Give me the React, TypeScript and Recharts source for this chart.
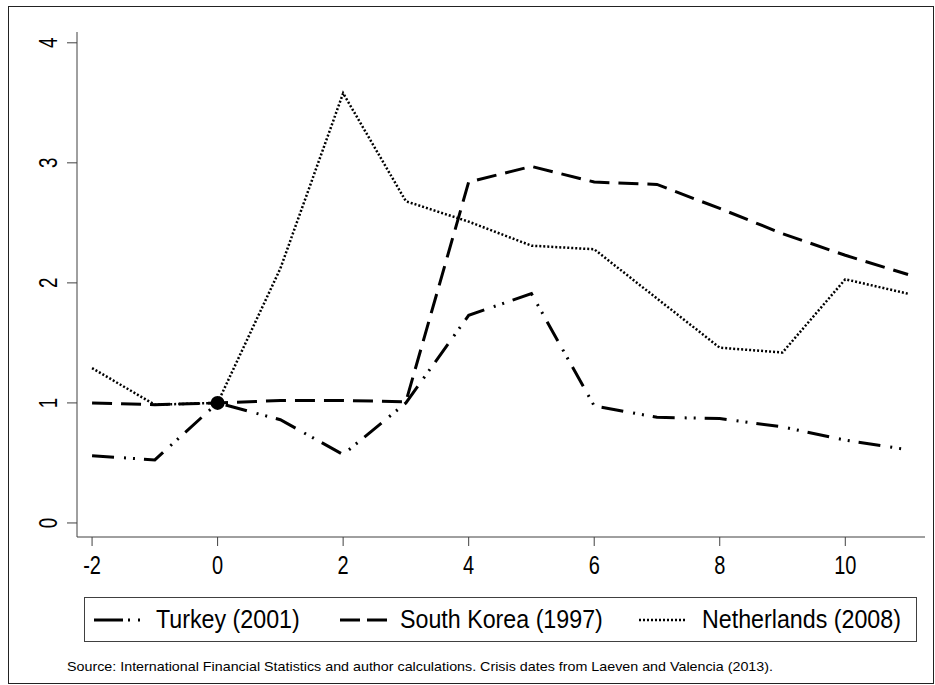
import { Line, LineChart, ReferenceDot, XAxis, YAxis } from "recharts";

// Years relative to the crisis (t = 0)
const years = [-2, -1, 0, 1, 2, 3, 4, 5, 6, 7, 8, 9, 10, 11];

// Index values, normalised to 1 in the crisis year
const turkey = [0.56, 0.525, 1.0, 0.86, 0.57, 1.0, 1.73, 1.91, 0.975, 0.88, 0.87, 0.8, 0.69, 0.61];
const southKorea = [1.0, 0.985, 1.0, 1.02, 1.02, 1.01, 2.84, 2.97, 2.84, 2.82, 2.62, 2.41, 2.23, 2.07];
const netherlands = [1.29, 0.985, 1.0, 2.12, 3.58, 2.68, 2.51, 2.31, 2.28, 1.87, 1.46, 1.42, 2.03, 1.91];

const xTicks = [-2, 0, 2, 4, 6, 8, 10];
const yTicks = [0, 1, 2, 3, 4];
const baseYear = 0;
const baseValue = 1;

const seriesNames = ["Turkey (2001)", "South Korea (1997)", "Netherlands (2008)"];
const sourceNote =
  "Source: International Financial Statistics and author calculations. Crisis dates from Laeven and Valencia (2013).";

const rows = years.map((year, i) => ({
  year,
  turkey: turkey[i],
  southKorea: southKorea[i],
  netherlands: netherlands[i],
}));

const font = "'Liberation Sans', Arial, sans-serif";
const axisColor = "#404040";

const styles = [
  { key: "turkey", dash: "22 10 2 7 2 9", width: 3 },
  { key: "southKorea", dash: "20 9", width: 3 },
  { key: "netherlands", dash: "2 2", width: 2.5 },
];

// Narrow, tall tick digits
function XTick({ x, y, payload }: any) {
  return (
    <text
      transform={`translate(${x} ${y + 22}) scale(0.8 1)`}
      textAnchor="middle"
      fontSize={25}
      fontFamily={font}
      fill="#000"
    >
      {payload.value}
    </text>
  );
}

// Y labels are turned to read bottom-to-top
function YTick({ x, y, payload }: any) {
  const bx = x - 8;
  return (
    <text
      transform={`translate(${bx} ${y}) rotate(-90) scale(0.75 1)`}
      textAnchor="middle"
      fontSize={25}
      fontFamily={font}
      fill="#000"
    >
      {payload.value}
    </text>
  );
}

// Boxed legend with a short line sample per series
function LegendBox() {
  const items = [
    { sample: [9, 55], text: 71, dash: "29 5 2 8 2 20" },
    { sample: [255, 304], text: 315, dash: "20 7" },
    { sample: [554, 602], text: 617, dash: "2 2" },
  ];
  return (
    <div
      style={{
        position: "absolute",
        left: 84,
        top: 597,
        width: 831,
        height: 43,
        border: `1px solid ${axisColor}`,
        background: "#fff",
      }}
    >
      <svg width={831} height={43} style={{ position: "absolute", left: 0, top: 0 }}>
        {items.map((it, i) => (
          <line
            key={i}
            x1={it.sample[0]}
            x2={it.sample[1]}
            y1={22}
            y2={22}
            stroke="#000"
            strokeWidth={styles[i].width}
            strokeDasharray={it.dash}
          />
        ))}
        {items.map((it, i) => (
          <text
            key={i}
            transform={`translate(${it.text} 30) scale(0.93 1)`}
            fontSize={25}
            fontFamily={font}
            fill="#000"
          >
            {seriesNames[i]}
          </text>
        ))}
      </svg>
    </div>
  );
}

export default function App() {
  return (
    <div style={{ position: "absolute", left: 0, top: 0, width: 935, height: 685, background: "#fff" }}>
      <div
        style={{
          position: "absolute",
          left: 8,
          top: 6,
          width: 924,
          height: 676,
          border: "1px solid #222",
        }}
      />
      <div style={{ position: "absolute", left: 0, top: 0 }}>
        <LineChart
          width={935}
          height={685}
          data={rows}
          margin={{ top: 32, right: 10, bottom: 108, left: 27 }}
        >
          <XAxis
            dataKey="year"
            type="number"
            domain={[-2.24, 11.27]}
            ticks={xTicks}
            allowDataOverflow
            height={40}
            stroke={axisColor}
            tickSize={9}
            tickMargin={6}
            tick={<XTick />}
          />
          <YAxis
            type="number"
            domain={[-0.117, 4.09]}
            ticks={yTicks}
            allowDataOverflow
            width={50}
            stroke={axisColor}
            tickSize={10}
            tickMargin={2}
            tick={<YTick />}
          />
          {styles.map((s, i) => (
            <Line
              key={s.key}
              name={seriesNames[i]}
              dataKey={s.key}
              type="linear"
              stroke="#000"
              strokeWidth={s.width}
              strokeDasharray={s.dash}
              dot={false}
              activeDot={false}
              isAnimationActive={false}
            />
          ))}
          <ReferenceDot x={baseYear} y={baseValue} r={7} fill="#000" stroke="none" />
        </LineChart>
      </div>
      <LegendBox />
      <svg width={935} height={30} style={{ position: "absolute", left: 0, top: 655 }}>
        <text x={67} y={16} fontSize={13.5} fontFamily={font} fill="#000" textLength={706} lengthAdjust="spacingAndGlyphs">
          {sourceNote}
        </text>
      </svg>
    </div>
  );
}
